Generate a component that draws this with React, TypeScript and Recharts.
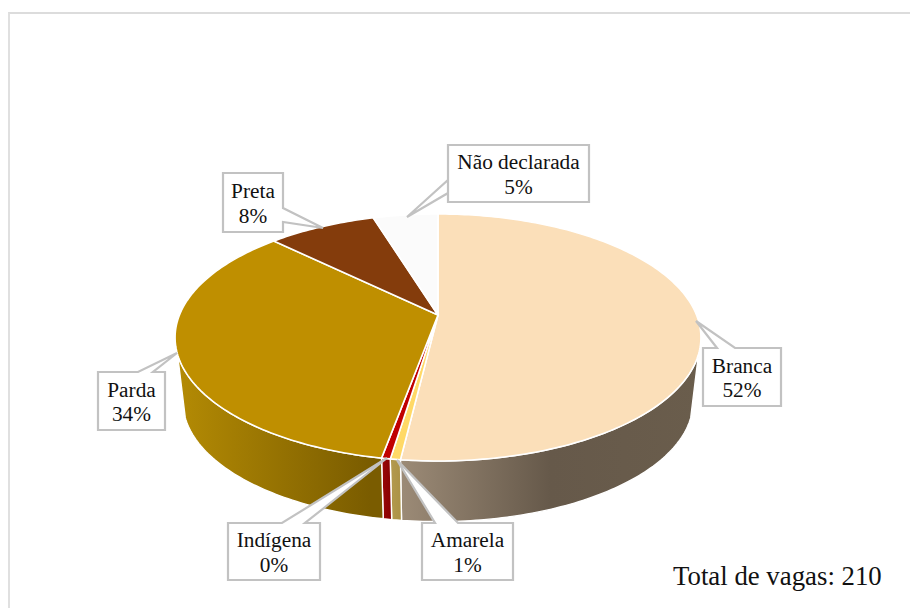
import { PieChart, Pie } from "recharts";

const categories = ["Branca", "Amarela", "Indígena", "Parda", "Preta", "Não declarada"];
const shares = [51.9, 0.52, 0.45, 34.43, 7.95, 4.75];
const totalVagas = 210;

const rows = categories.map((name, i) => ({ name, value: shares[i] }));

const topColors: Record<string, string> = {
  Branca: "#FBDFB9",
  Amarela: "#FFD966",
  Indígena: "#C00000",
  Parda: "#BF8F00",
  Preta: "#843C0C",
  "Não declarada": "#FBFBFB",
};

// side wall shading: [x, colour] stops along the horizontal
const wallStops: Record<string, [number, string][]> = {
  Branca: [[400, "#9C8B77"], [550, "#66594A"], [700, "#6A5D4C"]],
  Amarela: [[390, "#B39A4E"], [402, "#AB9245"]],
  Indígena: [[382, "#990808"], [392, "#860000"]],
  Parda: [[180, "#B38A04"], [370, "#7A5C00"]],
  Preta: [[0, "#5A2808"], [910, "#5A2808"]],
  "Não declarada": [[0, "#BBBBBB"], [910, "#BBBBBB"]],
};

// callout boxes: left, top, right, bottom, tip and the two points where the pointer leaves the box
const callouts: Record<string, { box: number[]; pointer: number[][] }> = {
  Branca: { box: [703, 348, 781, 406], pointer: [[717, 348], [696, 321], [735, 348]] },
  Amarela: { box: [422, 523, 513, 580], pointer: [[435, 523], [397, 460], [458, 523]] },
  Indígena: { box: [228, 523, 320, 580], pointer: [[282, 523], [387, 458], [305, 523]] },
  Parda: { box: [98, 372, 165, 430], pointer: [[138, 372], [177, 353], [153, 372]] },
  Preta: { box: [223, 173, 283, 232], pointer: [[283, 208], [323, 228], [283, 222]] },
  "Não declarada": { box: [448, 145, 589, 202], pointer: [[448, 180], [407, 217], [448, 193]] },
};

const SERIF = '"Liberation Serif", "Times New Roman", serif';

// tilt of the disc: a circle seen through a perspective projection
const TILT = 0.182;
const SCALE_X = 0.983;
const SCALE_Y = 0.454;
const WALL_DROP = 65;
const WALL_SCALE = 0.97;
const WALL_FROM = 108;
const WALL_TO = 252;

function project(theta: number, cx: number, cy: number, r: number, scale = 1, drop = 0) {
  const t = (theta * Math.PI) / 180;
  const w = 1 + TILT * Math.cos(t);
  return {
    x: cx + (scale * r * SCALE_X * Math.sin(t)) / w,
    y: cy + drop - (scale * r * SCALE_Y * Math.cos(t)) / w,
  };
}

function arcPoints(from: number, to: number, cx: number, cy: number, r: number, scale = 1, drop = 0) {
  const steps = Math.max(2, Math.ceil(Math.abs(to - from)));
  const pts = [];
  for (let i = 0; i <= steps; i++) {
    pts.push(project(from + ((to - from) * i) / steps, cx, cy, r, scale, drop));
  }
  return pts;
}

const toPath = (pts: { x: number; y: number }[]) =>
  pts.map((p, i) => `${i ? "L" : "M"}${p.x.toFixed(2)} ${p.y.toFixed(2)}`).join(" ");

function DiscSlice(props: any) {
  const { cx, cy, outerRadius, startAngle, endAngle, name } = props;
  const from = 90 - startAngle;
  const to = 90 - endAngle;
  const top = [{ x: cx, y: cy }, ...arcPoints(from, to, cx, cy, outerRadius)];
  const wallA = Math.max(from, WALL_FROM);
  const wallB = Math.min(to, WALL_TO);
  const gradId = `wall-${categories.indexOf(name)}`;
  const stops = wallStops[name];
  const x0 = stops[0][0];
  const x1 = stops[stops.length - 1][0];

  let wall = null;
  if (wallB > wallA) {
    const upper = arcPoints(wallA, wallB, cx, cy, outerRadius);
    const lower = arcPoints(wallB, wallA, cx, cy, outerRadius, WALL_SCALE, WALL_DROP);
    wall = (
      <>
        <defs>
          <linearGradient id={gradId} gradientUnits="userSpaceOnUse" x1={x0} x2={x1} y1={0} y2={0}>
            {stops.map(([x, c]) => (
              <stop key={x} offset={(x - x0) / (x1 - x0)} stopColor={c} />
            ))}
          </linearGradient>
        </defs>
        <path d={`${toPath([...upper, ...lower])} Z`} fill={`url(#${gradId})`} stroke="#fff" strokeWidth={1.4} />
      </>
    );
  }

  return (
    <g>
      {wall}
      <path d={`${toPath(top)} Z`} fill={topColors[name]} stroke="#fff" strokeWidth={1.6} strokeLinejoin="round" />
    </g>
  );
}

function Callout(props: any) {
  const { name, percent } = props;
  const { box, pointer } = callouts[name];
  const [l, t, r, b] = box;
  const mx = (l + r) / 2;
  const my = (t + b) / 2;
  // outline walks round the box and detours through the pointer tip on the side it leaves from
  const corners = [[l, t], [r, t], [r, b], [l, b]];
  const [p0, tip, p2] = pointer;
  const side = p0[1] === t && p2[1] === t ? 0 : p0[0] === r && p2[0] === r ? 1 : 3;
  const outline: number[][] = [];
  corners.forEach((c, i) => {
    outline.push(c);
    if (i === side) outline.push(p0, tip, p2);
  });
  return (
    <g>
      <polygon
        points={outline.map((p) => p.join(",")).join(" ")}
        fill="#fff"
        stroke="#C2C2C2"
        strokeWidth={2.2}
        strokeLinejoin="miter"
      />
      <text x={mx} y={my - 4.5} textAnchor="middle" fontFamily={SERIF} fontSize={21.3} fill="#111">
        {name}
      </text>
      <text x={mx} y={my + 20} textAnchor="middle" fontFamily={SERIF} fontSize={21.3} fill="#111">
        {`${Math.round(percent * 100)}%`}
      </text>
    </g>
  );
}

export default function App() {
  return (
    <div style={{ position: "absolute", left: 0, top: 0, width: 910, height: 608, overflow: "hidden", background: "#fff" }}>
      <div
        style={{
          position: "absolute",
          left: 8,
          top: 12,
          width: 910,
          height: 608,
          borderLeft: "2px solid #E0E0E0",
          borderTop: "2px solid #DCDCDC",
        }}
      />
      <div style={{ position: "absolute", left: 0, top: 0 }}>
        <PieChart width={910} height={608} margin={{ top: 0, right: 0, bottom: 0, left: 0 }}>
          <Pie
            data={rows}
            dataKey="value"
            nameKey="name"
            cx={438}
            cy={315}
            innerRadius={0}
            outerRadius={263}
            startAngle={90}
            endAngle={-270}
            paddingAngle={0}
            stroke="none"
            shape={DiscSlice}
            label={Callout}
            labelLine={false}
            isAnimationActive={false}
          />
          <text x={673} y={585} fontFamily={SERIF} fontSize={26.8} fill="#111">
            {`Total de vagas: ${totalVagas}`}
          </text>
        </PieChart>
      </div>
    </div>
  );
}
